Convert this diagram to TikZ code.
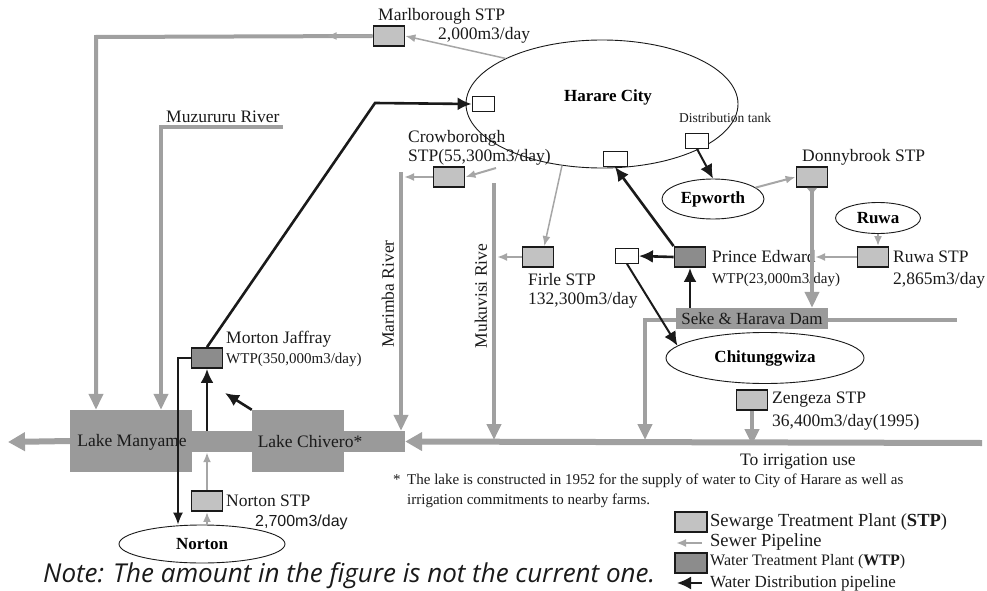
\documentclass[tikz,border=0pt]{standalone}
\usepackage{fontspec}
\setmainfont{Liberation Serif}
\newfontfamily\notefont{Open Sans}
\newfontfamily\numfont{Liberation Sans}
\usetikzlibrary{arrows.meta,positioning,calc,shapes.geometric}
\definecolor{hwLake}{HTML}{9A9A9A}
\definecolor{hwStp}{HTML}{C2C2C2}
\definecolor{hwWtp}{HTML}{8C8C8C}
\definecolor{hwSewer}{HTML}{A6A6A6}
\definecolor{hwRiver}{HTML}{A0A0A0}
\definecolor{hwInk}{HTML}{1A1A1A}
\tikzset{
  hwstp/.style={rectangle,draw=hwInk,line width=1.8pt,fill=hwStp,minimum width=31pt,minimum height=20pt,inner sep=0pt},
  hwwtp/.style={hwstp,fill=hwWtp},
  hwtank/.style={rectangle,draw=hwInk,line width=0.8pt,fill=white,minimum width=22pt,minimum height=15pt,inner sep=0pt},
  hwtown/.style={ellipse,draw=hwInk,line width=0.9pt,fill=white,font=\fontsize{17}{19}\selectfont\bfseries,inner sep=0pt},
  hwlake/.style={rectangle,fill=hwLake,inner sep=0pt},
  hwlabel/.style={font=\fontsize{17.5}{19}\selectfont,text=hwInk,inner sep=0pt,anchor=west},
  hwsmall/.style={hwlabel,font=\fontsize{15}{17}\selectfont},
  hwsewer/.style={-{Latex[length=10pt,width=8pt]},draw=hwSewer,line width=2pt},
  hwriver/.style={-{Triangle[length=16pt,width=14pt]},draw=hwRiver,line width=4pt},
  hwmain/.style={hwriver,line width=6pt,-{Triangle[length=17pt,width=18pt]}},
  hwsupply/.style={-{Latex[length=14pt,width=13pt]},draw=hwInk,line width=2.6pt},
  hwthin/.style={-{Latex[length=12pt,width=10pt]},draw=hwInk,line width=1.4pt}
}

\begin{document}
\begin{tikzpicture}[x=1pt,y=-1pt]
\useasboundingbox (0,0) rectangle (987,591);

% ---- BENDS AND FREE ENDS ----
\coordinate (rivsrc) at (982,443);
\coordinate (outflow) at (8,442);
\coordinate (marlbend) at (96,37);
\coordinate (muzend) at (283,127);
\coordinate (muzbend) at (161,127);
\coordinate (marimbatop) at (401,172);
\coordinate (mukutop) at (494,183);
\coordinate (damend) at (957,320);
\coordinate (dambend) at (645,320);
\coordinate (crowin) at (496,168);
\coordinate (mjbend) at (375,103);
\coordinate (mjin) at (225,393);
\coordinate (njbend) at (178,358);

% ---- LAKES AND RIVERS ----
\node[hwlake,minimum width=122pt,minimum height=62pt] (manyame) at (131,441) {};
\node[hwlake,minimum width=92pt,minimum height=62pt] (chivero) at (298,441) {};
\node[hwlake,minimum width=213pt,minimum height=21pt] (channel) at (298.5,441.5) {};
\node[hwlabel,anchor=center] (manyamelbl) at (132,442) {Lake Manyame};
\node[hwlabel,anchor=center] (chiverolbl) at (310,442) {Lake Chivero*};

\draw[hwmain] (rivsrc) -- (channel.east);
\draw[hwmain] (manyame.west) -- (outflow);
\draw[hwriver] (marimbatop) -- (marimbatop |- channel.north);
\draw[hwriver] (mukutop) -- ($(mukutop |- rivsrc)+(0,-3)$);
\draw[hwriver] (muzend) -- (muzbend) -- (muzbend |- manyame.north);
\draw[hwriver] (damend) -- (dambend) -- ($(dambend |- rivsrc)+(0,-3)$);
\node[hwlabel] (muzlbl) at (166,117) {Muzururu River};
\node[hwlabel,anchor=center,rotate=90] (marimbalbl) at (388,294) {Marimba River};
\node[hwlabel,anchor=center,rotate=90] (mukulbl) at (481,296) {Mukuvisi Rive};

\node[hwlake,minimum width=152pt,minimum height=21pt,font=\fontsize{17}{19}\selectfont,text=hwInk] (dam) at (752,318.5) {Seke \& Harava Dam};

% ---- HARARE CITY ----
\node[hwtown,minimum width=272pt,minimum height=128pt] (harare) at (602,104) {};
\node[font=\fontsize{17}{19}\selectfont\bfseries,inner sep=0pt] (harlbl) at (608,97) {Harare City};
\node[hwtank] (tankL) at (483,104) {};
\node[hwtank,minimum width=24pt] (tankS) at (615,159) {};
\node[hwtank,minimum width=23pt] (tankD) at (697,141) {};
\node[hwlabel,font=\fontsize{13.5}{15}\selectfont] (tankDlbl) at (679,118) {Distribution tank};

% ---- TOWNS ----
\node[hwtown,minimum width=102pt,minimum height=40pt] (epworth) at (713,199) {Epworth};
\node[hwtown,minimum width=85pt,minimum height=31pt] (ruwa) at (878,218) {Ruwa};
\node[hwtown,minimum width=198pt,minimum height=51pt] (chit) at (765,358) {Chitunggwiza};
\node[hwtown,minimum width=166pt,minimum height=38pt] (norton) at (202,544) {Norton};

% ---- TREATMENT PLANTS ----
\node[hwstp] (marl) at (389,36) {};
\node[hwlabel] (marllbl) at (378,16) {Marlborough STP};
\node[hwlabel] (marlcap) at (438,35) {2,000m3/day};

\node[hwstp] (crow) at (449,177) {};
\node[hwlabel] (crowlbl) at (408,138) {Crowborough};
\node[hwlabel] (crowcap) at (408,157) {STP(55,300m3/day)};

\node[hwstp] (firle) at (538,257) {};
\node[hwlabel] (firlelbl) at (528,280) {Firle STP};
\node[hwlabel] (firlecap) at (528,300) {132,300m3/day};

\node[hwtank,minimum width=23pt] (tankF) at (627,256) {};
\node[hwwtp] (pe) at (690,257) {};
\node[hwlabel] (pelbl) at (712,257) {Prince Edward};
\node[hwsmall] (pecap) at (712,280) {WTP(23,000m3/day)};

\node[hwstp] (donny) at (812,177) {};
\node[hwlabel] (donnylbl) at (802,157) {Donnybrook STP};

\node[hwstp] (ruwastp) at (873,257) {};
\node[hwlabel] (ruwastplbl) at (893,257) {Ruwa STP};
\node[hwlabel] (ruwastpcap) at (893,280) {2,865m3/day};

\node[hwstp] (zeng) at (752,400) {};
\node[hwlabel] (zenglbl) at (772,400) {Zengeza STP};
\node[hwlabel] (zengcap) at (772,422) {36,400m3/day(1995)};
\node[hwlabel] (irrlbl) at (740,462) {To irrigation use};

\node[hwwtp] (mj) at (207,358) {};
\node[hwlabel] (mjlbl) at (226,339) {Morton Jaffray};
\node[hwsmall] (mjcap) at (226,360) {WTP(350,000m3/day)};

\node[hwstp] (nstp) at (207,501) {};
\node[hwlabel] (nstplbl) at (226,501) {Norton STP};
\node[hwlabel,font=\numfont\fontsize{16}{18}\selectfont] (nstpcap) at (255,522) {2,700m3/day};

% ---- SEWER PIPELINES ----
\draw[hwriver] (marl.west) -- (marlbend) -- (marlbend |- manyame.north);
\draw[hwsewer] (marl.west) -- ++(-46,0);
\draw[hwsewer,line width=1.5pt] (harare.north west) -- (marl.east);
\draw[hwsewer] (crowin) -- (crow.east);
\draw[hwsewer] (crow.west) -- ($(crow.west -| marimbatop)+(3,0)$);
\draw[hwsewer,line width=1.5pt] (harare.237) -- (firle.60);
\draw[hwsewer] (firle.west) -- ($(firle.west -| mukutop)+(3,0)$);
\draw[hwsewer] (epworth.15) -- (donny.west);
\draw[hwriver,{Triangle[reversed,length=6pt,width=10pt]}-{Triangle[length=16pt,width=14pt]}] (donny.south) -- (donny.south |- dam.north);
\draw[hwsewer] (ruwa.south) -- (ruwa.south |- ruwastp.north);
\draw[hwsewer] (ruwastp.west) -- ($(ruwastp.west -| donny.south)+(3,0)$);
\draw[hwriver] (zeng.south) -- ($(zeng.south |- rivsrc)+(0,2)$);
\draw[hwsewer] (nstp.north) -- (nstp.north |- channel.south);
\draw[hwsewer] (nstp.south |- norton.north) -- (nstp.south);

% ---- WATER DISTRIBUTION ----
\draw[hwsupply] (mj.north) -- (mjbend) -- (tankL.west);
\draw[hwsupply] (mj.south |- channel.north) -- (mj.south);
\draw[hwsupply] (chivero.north west) -- (mjin);
\draw[hwthin] (mj.west) -- (njbend) -- (njbend |- norton.north);
\draw[hwsupply] (pe.north west) -- (tankS.south);
\draw[hwsupply] (pe.west) -- (tankF.east);
\draw[hwsupply] (pe.south |- dam.north) -- (pe.south);
\draw[hwsupply,line width=2pt] (tankF.south) -- (chit.172);
\draw[hwsupply,line width=2pt] (tankD.south) -- (epworth.north);

% ---- FOOTNOTE ----
\node[hwlabel,font=\fontsize{15}{20}\selectfont,align=left] (footnote) at (393,491) {\makebox[14pt][l]{*}The lake is constructed in 1952 for the supply of water to City of Harare as well as\\\hspace*{14pt}irrigation commitments to nearby farms.};

% ---- LEGEND ----
\coordinate (legsewa) at (702,543);
\coordinate (legsewb) at (676,543);
\coordinate (legsupa) at (702,583);
\coordinate (legsupb) at (677,583);
\node[hwstp,minimum width=32pt] (legstp) at (691,522) {};
\node[hwlabel,font=\fontsize{18.5}{20}\selectfont] (legstplbl) at (710,522) {Sewarge Treatment Plant (\textbf{STP})};
\draw[hwsewer] (legsewa) -- (legsewb);
\node[hwlabel,font=\fontsize{18.5}{20}\selectfont] (legsewlbl) at (710,542) {Sewer Pipeline};
\node[hwwtp,minimum width=32pt] (legwtp) at (691,563) {};
\node[hwlabel,font=\fontsize{16}{18}\selectfont] (legwtplbl) at (710,562) {Water Treatment Plant (\textbf{WTP})};
\draw[hwsupply,line width=2pt] (legsupa) -- (legsupb);
\node[hwlabel,font=\fontsize{17}{18}\selectfont] (legsuplbl) at (710,583) {Water Distribution pipeline};

% ---- NOTE ----
\node[anchor=west,inner sep=0pt,font=\notefont\itshape\fontsize{26}{28}\selectfont,text=hwInk] (note) at (43,576) {Note: The amount in the figure is not the current one.};

\end{tikzpicture}
\end{document}
